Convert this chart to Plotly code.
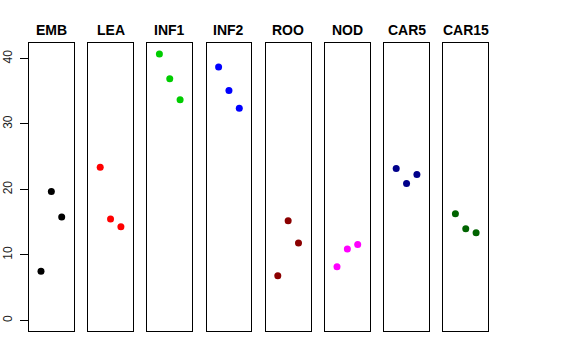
import plotly.graph_objects as go

W, H = 576, 360

categories = ["EMB", "LEA", "INF1", "INF2", "ROO", "NOD", "CAR5", "CAR15"]
emb = [7.5, 19.7, 15.8]
lea = [23.4, 15.5, 14.3]
inf1 = [40.7, 36.9, 33.7]
inf2 = [38.7, 35.1, 32.4]
roo = [6.8, 15.2, 11.8]
nod = [8.2, 10.9, 11.6]
car5 = [23.2, 20.9, 22.3]
car15 = [16.3, 14.0, 13.4]
series = [emb, lea, inf1, inf2, roo, nod, car5, car15]
colors = ["#000000", "#FF0000", "#00CD00", "#0000FF",
          "#8B0000", "#FF00FF", "#00008B", "#006400"]
reps = [1, 2, 3]
ytick_vals = [0, 10, 20, 30, 40]

ymax = max(max(s) for s in series)
ypad = 0.04 * ymax
yrange = [-ypad, ymax + ypad]
xrange = [-0.16, 4.16]

fig = go.Figure()

left0, pitch, pw = 29.0, 59.2, 44.7
top_px, bot_px = 43.3, 331.0

layout = dict(
    width=W, height=H,
    margin=dict(l=0, r=0, t=0, b=0, autoexpand=False),
    paper_bgcolor="white", plot_bgcolor="white",
    showlegend=False,
    font=dict(family="Liberation Sans, Arial, sans-serif", color="black"),
)
annotations = []
for i, (cat, vals, col) in enumerate(zip(categories, series, colors)):
    k = "" if i == 0 else str(i + 1)
    x0 = (left0 + pitch * i) / W
    x1 = (left0 + pitch * i + pw) / W
    fig.add_trace(go.Scatter(
        x=reps, y=vals, mode="markers",
        marker=dict(color=col, size=7, line=dict(width=0)),
        xaxis="x" + k, yaxis="y" + k, hoverinfo="skip"))
    layout["xaxis" + k] = dict(
        domain=[x0, x1], range=xrange, anchor="y" + k, automargin=False,
        showgrid=False, zeroline=False, showticklabels=False, ticks="",
        showline=True, mirror=True, linecolor="black", linewidth=1)
    ya = dict(
        domain=[1 - bot_px / H, 1 - top_px / H], range=yrange, anchor="x" + k,
        automargin=False, showgrid=False, zeroline=False,
        showline=True, mirror=True, linecolor="black", linewidth=1)
    if i == 0:
        ya.update(tickvals=ytick_vals, ticks="outside", ticklen=8,
                  tickcolor="black", tickwidth=1, tickangle=-90,
                  tickfont=dict(size=12, color="#222222"),
                  ticklabelstandoff=3)
    else:
        ya.update(showticklabels=False, ticks="")
    layout["yaxis" + k] = ya
    annotations.append(dict(
        text="<b>" + cat + "</b>", x=(x0 + x1) / 2, y=1 - 30 / H,
        xref="paper", yref="paper", xanchor="center", yanchor="middle",
        showarrow=False, font=dict(size=14, color="black")))

layout["annotations"] = annotations
fig.update_layout(**layout)
fig.write_html("out.html",
               config={"displayModeBar": False},
               post_script="document.body.style.margin='0';"
                           "document.body.style.padding='0';")
